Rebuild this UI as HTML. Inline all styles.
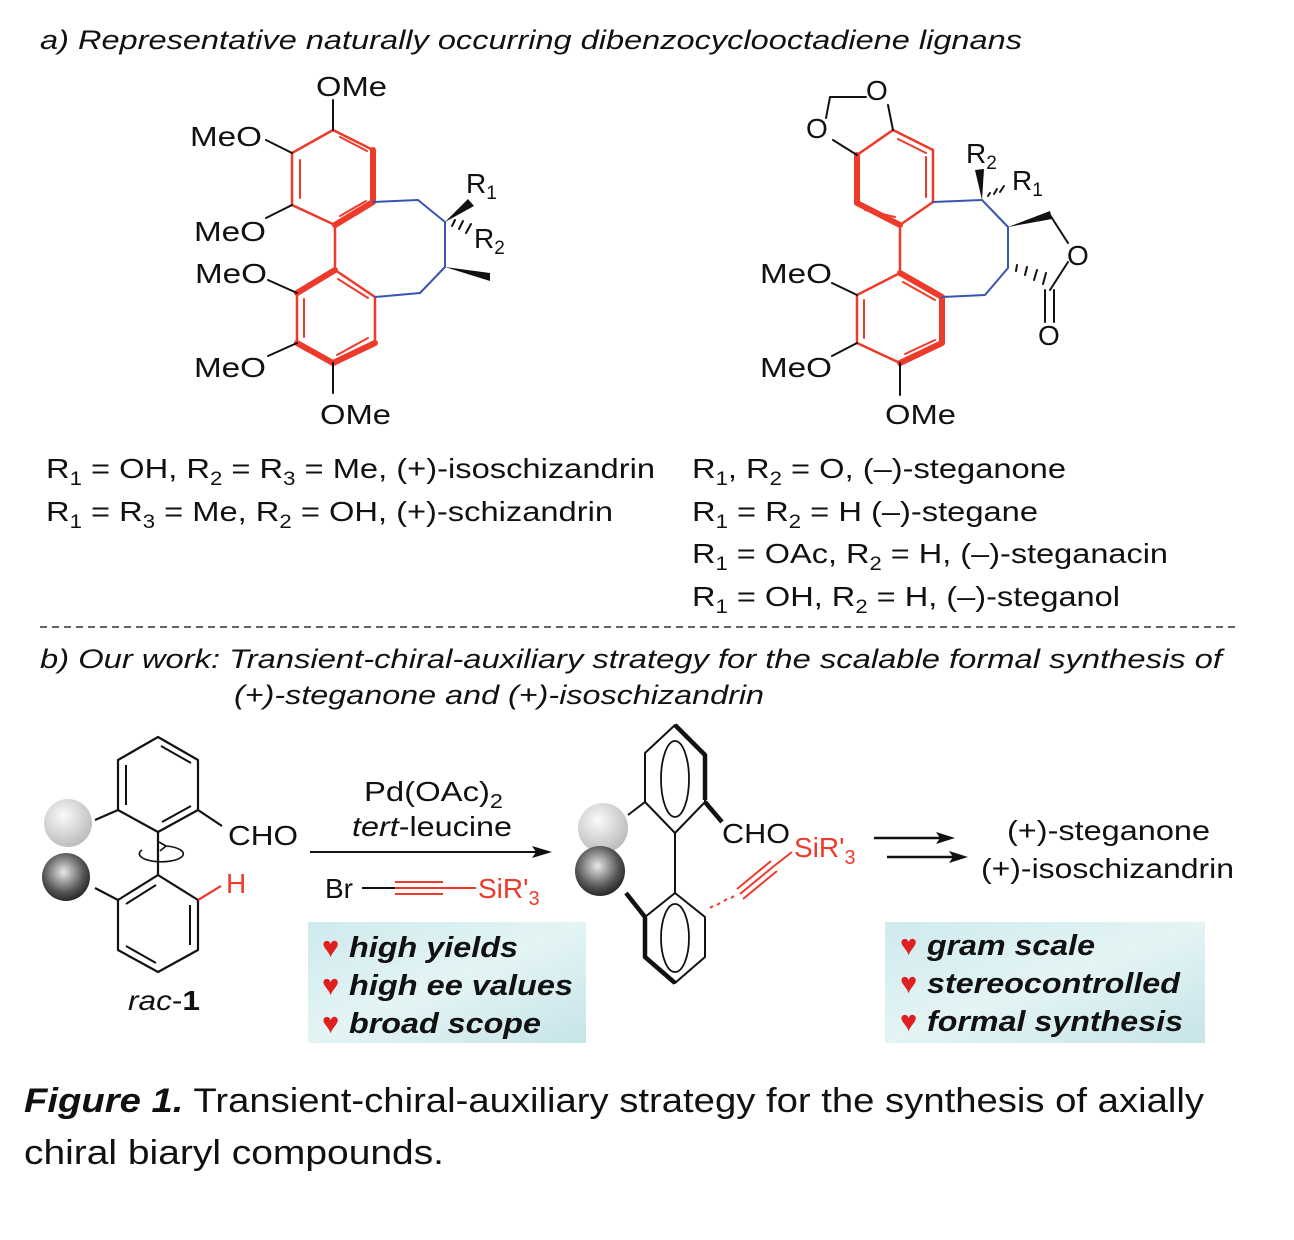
<!DOCTYPE html>
<html><head><meta charset="utf-8"><style>
html,body{margin:0;padding:0;background:#fff}
svg{display:block}
text{font-family:"Liberation Sans",sans-serif;fill:#111}
</style></head><body>
<svg width="1294" height="1240" viewBox="0 0 1294 1240" xmlns="http://www.w3.org/2000/svg">
<defs>
<linearGradient id="bx" x1="0" y1="0" x2="1" y2="1"><stop offset="0" stop-color="#cfeaee"/><stop offset="0.5" stop-color="#e4f4f5"/><stop offset="1" stop-color="#c6e4e8"/></linearGradient>
<radialGradient id="sl" cx="0.4" cy="0.35" r="0.7"><stop offset="0" stop-color="#fafafa"/><stop offset="1" stop-color="#b8b8b8"/></radialGradient>
<radialGradient id="sd" cx="0.45" cy="0.4" r="0.7"><stop offset="0" stop-color="#e8e8e8"/><stop offset="0.6" stop-color="#555"/><stop offset="1" stop-color="#111"/></radialGradient>
</defs>

<text x="40" y="49" font-size="27" font-style="italic" textLength="982" lengthAdjust="spacingAndGlyphs">a) Representative naturally occurring dibenzocyclooctadiene lignans</text>

<!-- LEFT STRUCTURE -->
<g stroke-linecap="round" stroke-linejoin="round" fill="none">
<g stroke="#ee3a2a" stroke-width="2.5">
<path d="M333,130 L373,150 M373,202 L335,225 L292,205 L292,153 L333,130"/>
<path d="M335,270 L375,297 L375,343 M297,343 L297,293"/>
<path d="M335,225 L335,270"/>
<path d="M300,160 L300,198 M340,137 L367,151 M340,216 L366,201" stroke-width="2"/>
<path d="M338,279 L368,298 M304,299 L304,337 M337,355 L368,338" stroke-width="2"/>
</g>
<g stroke="#ee3a2a" stroke-width="6">
<path d="M373,150 L373,202 L335,225"/>
<path d="M335,270 L297,293 M297,343 L333,363 L375,343"/>
</g>
<path d="M373,202 L418,200 L445,222 L445,267 L420,293 L375,297" stroke="#3a55b0" stroke-width="2"/>
<g stroke="#111" stroke-width="2">
<path d="M333,130 L333,100 M292,153 L266,140 M292,205 L266,218 M297,293 L268,280 M297,343 L268,356 M333,363 L333,393"/>
<path d="M452,226 L455,220 M459,229 L463,221 M466,233 L471,224" stroke-width="2"/>
</g>
</g>
<polygon points="445,222 468,199 474,206" fill="#111"/>
<polygon points="445,267 490,273 490,281" fill="#111"/>
<g font-size="28">
<text x="316" y="96" textLength="71" lengthAdjust="spacingAndGlyphs">OMe</text>
<text x="190" y="146" textLength="72" lengthAdjust="spacingAndGlyphs">MeO</text>
<text x="194" y="241" textLength="72" lengthAdjust="spacingAndGlyphs">MeO</text>
<text x="195" y="283" textLength="72" lengthAdjust="spacingAndGlyphs">MeO</text>
<text x="194" y="377" textLength="72" lengthAdjust="spacingAndGlyphs">MeO</text>
<text x="320" y="424" textLength="71" lengthAdjust="spacingAndGlyphs">OMe</text>
<text x="466" y="193">R<tspan font-size="19" dy="6">1</tspan></text>
<text x="474" y="248">R<tspan font-size="19" dy="6">2</tspan></text>
</g>

<!-- RIGHT STRUCTURE -->
<g stroke-linecap="round" stroke-linejoin="round" fill="none">
<g stroke="#ee3a2a" stroke-width="2.5">
<path d="M893,130 L933,150 L933,202 L900,225 M857,155 L893,130"/>
<path d="M900,225 L900,273 M900,273 L857,295 L857,343 L900,363"/>
<path d="M898,139 L926,153 M926,157 L926,197 M865,210 L895,217" stroke-width="2"/>
<path d="M903,282 L935,300 M864,300 L864,338 M905,354 L935,340" stroke-width="2"/>
</g>
<g stroke="#ee3a2a" stroke-width="6">
<path d="M857,155 L857,203 L900,225"/>
<path d="M900,273 L942,297 L942,343 L900,363"/>
</g>
<path d="M933,202 L982,200 L1008,227 L1008,268 L985,295 L942,297" stroke="#3a55b0" stroke-width="2"/>
<g stroke="#111" stroke-width="2">
<path d="M857,155 L833,140 M893,130 L888,105 M826,118 L830,97 L866,97"/>
<path d="M1050,215 L1068,243 M1068,262 L1050,290 M1045,290 L1045,322 M1054,290 L1054,322"/>
<path d="M857,295 L832,283 M857,343 L832,356 M900,363 L900,395"/>
<path d="M988,196 L990,193 M994,194 L997,189 M1000,192 L1004,186"/>
<path d="M1016,271 L1017,265 M1025,275 L1027,267 M1034,280 L1037,270 M1043,284 L1046,273"/>
</g>
</g>
<polygon points="982,200 975,170 984,169" fill="#111"/>
<polygon points="1008,227 1050,211 1052,219" fill="#111"/>
<g font-size="28">
<text x="866" y="100">O</text>
<text x="806" y="138">O</text>
<text x="966" y="163">R<tspan font-size="19" dy="6">2</tspan></text>
<text x="1012" y="190">R<tspan font-size="19" dy="6">1</tspan></text>
<text x="1067" y="265">O</text>
<text x="1038" y="345">O</text>
<text x="760" y="283" textLength="72" lengthAdjust="spacingAndGlyphs">MeO</text>
<text x="760" y="377" textLength="72" lengthAdjust="spacingAndGlyphs">MeO</text>
<text x="885" y="424" textLength="71" lengthAdjust="spacingAndGlyphs">OMe</text>
</g>

<!-- compound lines -->
<g font-size="28">
<text x="46" y="478" textLength="609" lengthAdjust="spacingAndGlyphs">R<tspan font-size="19" dy="7">1</tspan><tspan dy="-7"> = OH, R</tspan><tspan font-size="19" dy="7">2</tspan><tspan dy="-7"> = R</tspan><tspan font-size="19" dy="7">3</tspan><tspan dy="-7"> = Me, (+)-isoschizandrin</tspan></text>
<text x="46" y="521" textLength="567" lengthAdjust="spacingAndGlyphs">R<tspan font-size="19" dy="7">1</tspan><tspan dy="-7"> = R</tspan><tspan font-size="19" dy="7">3</tspan><tspan dy="-7"> = Me, R</tspan><tspan font-size="19" dy="7">2</tspan><tspan dy="-7"> = OH, (+)-schizandrin</tspan></text>
<text x="692" y="478" textLength="374" lengthAdjust="spacingAndGlyphs">R<tspan font-size="19" dy="7">1</tspan><tspan dy="-7">, R</tspan><tspan font-size="19" dy="7">2</tspan><tspan dy="-7"> = O, (–)-steganone</tspan></text>
<text x="692" y="521" textLength="346" lengthAdjust="spacingAndGlyphs">R<tspan font-size="19" dy="7">1</tspan><tspan dy="-7"> = R</tspan><tspan font-size="19" dy="7">2</tspan><tspan dy="-7"> = H (–)-stegane</tspan></text>
<text x="692" y="563" textLength="476" lengthAdjust="spacingAndGlyphs">R<tspan font-size="19" dy="7">1</tspan><tspan dy="-7"> = OAc, R</tspan><tspan font-size="19" dy="7">2</tspan><tspan dy="-7"> = H, (–)-steganacin</tspan></text>
<text x="692" y="606" textLength="428" lengthAdjust="spacingAndGlyphs">R<tspan font-size="19" dy="7">1</tspan><tspan dy="-7"> = OH, R</tspan><tspan font-size="19" dy="7">2</tspan><tspan dy="-7"> = H, (–)-steganol</tspan></text>
</g>

<line x1="40" y1="627" x2="1236" y2="627" stroke="#333" stroke-width="1.5" stroke-dasharray="7,5"/>

<text x="40" y="668" font-size="27" font-style="italic" textLength="1182" lengthAdjust="spacingAndGlyphs">b) Our work: Transient-chiral-auxiliary strategy for the scalable formal synthesis of</text>
<text x="234" y="704" font-size="27" font-style="italic" textLength="530" lengthAdjust="spacingAndGlyphs">(+)-steganone and (+)-isoschizandrin</text>

<!-- rac-1 -->
<circle cx="68" cy="823" r="24" fill="url(#sl)"/>
<circle cx="66" cy="877" r="24" fill="url(#sd)"/>
<g stroke="#111" stroke-width="2.2" fill="none" stroke-linejoin="round">
<path d="M158,737 L198,760 L198,810 L158,832 L118,810 L118,760 Z"/>
<path d="M161,746 L191,763 M191,806 L162,822 M126,765 L126,805" stroke-width="2"/>
<path d="M158,875 L198,900 L198,950 L158,972 L118,950 L118,900 Z"/>
<path d="M126,904 L156,885 M190,905 L190,945 M126,946 L156,963" stroke-width="2"/>
<path d="M158,832 L158,875 M198,810 L222,826 M118,810 L95,820 M118,900 L95,888"/>
<path d="M142,850 A22,8 0 1 0 166,846" stroke-width="1.6"/>
<path d="M166,846 L159,842 M166,846 L160,851" stroke-width="1.6"/>
</g>
<line x1="198" y1="900" x2="221" y2="886" stroke="#ee3a2a" stroke-width="2.2"/>
<text x="228" y="845" font-size="28" textLength="70" lengthAdjust="spacingAndGlyphs">CHO</text>
<text x="226" y="893" font-size="28" style="fill:#ee3a2a">H</text>
<text x="128" y="1010" font-size="28" textLength="72" lengthAdjust="spacingAndGlyphs"><tspan font-style="italic">rac</tspan>-<tspan font-weight="bold">1</tspan></text>

<!-- reaction arrow -->
<line x1="310" y1="852" x2="540" y2="852" stroke="#111" stroke-width="2"/>
<polygon points="552,852 532,846 536,852 532,858" fill="#111"/>
<text x="364" y="801" font-size="28" textLength="139" lengthAdjust="spacingAndGlyphs">Pd(OAc)<tspan font-size="20" dy="7">2</tspan></text>
<text x="352" y="836" font-size="28" textLength="160" lengthAdjust="spacingAndGlyphs"><tspan font-style="italic">tert</tspan>-leucine</text>
<text x="325" y="898" font-size="28">Br</text>
<line x1="362" y1="888" x2="395" y2="888" stroke="#111" stroke-width="2"/>
<g stroke="#ee3a2a" stroke-width="2"><line x1="395" y1="882" x2="443" y2="882"/><line x1="395" y1="888" x2="476" y2="888"/><line x1="395" y1="894" x2="443" y2="894"/></g>
<text x="478" y="898" font-size="28" style="fill:#ee3a2a">SiR'<tspan font-size="20" dy="7">3</tspan></text>

<!-- left box -->
<rect x="308" y="922" width="278" height="121" fill="url(#bx)"/>
<g font-size="29" font-weight="bold" font-style="italic">
<text x="322" y="957" style="fill:#e02020">♥</text><text x="349" y="957" textLength="169" lengthAdjust="spacingAndGlyphs">high yields</text>
<text x="322" y="995" style="fill:#e02020">♥</text><text x="349" y="995" textLength="224" lengthAdjust="spacingAndGlyphs">high ee values</text>
<text x="322" y="1033" style="fill:#e02020">♥</text><text x="349" y="1033" textLength="192" lengthAdjust="spacingAndGlyphs">broad scope</text>
</g>

<!-- product -->
<circle cx="603" cy="828" r="25" fill="url(#sl)"/>
<circle cx="600" cy="871" r="25" fill="url(#sd)"/>
<g stroke="#111" stroke-width="2" fill="none" stroke-linejoin="round">
<path d="M675,725 L705,755 L705,802 L675,833 L645,802 L645,753 Z"/>
<ellipse cx="675" cy="779" rx="14" ry="38" stroke-width="1.8"/>
<path d="M675,725 L705,755 L705,800" stroke-width="4.5"/>
<path d="M675,893 L705,917 L705,957 L675,983 L645,957 L645,917 Z"/>
<ellipse cx="675" cy="938" rx="14" ry="34" stroke-width="1.8"/>
<path d="M645,917 L645,957 L675,983" stroke-width="4.5"/>
<path d="M675,833 L675,893 M645,802 L628,815"/>
<path d="M705,802 L722,822 M626,893 L645,917" stroke-width="4.5"/>
</g>
<g stroke="#ee3a2a" stroke-width="2">
<path d="M710,908 L713,906 M717,905 L720,903 M724,901 L727,899 M731,898 L734,896"/>
<line x1="740" y1="894" x2="774" y2="866"/><line x1="743" y1="899" x2="777" y2="871"/><line x1="737" y1="889" x2="771" y2="861"/>
<line x1="774" y1="866" x2="792" y2="852"/>
</g>
<text x="722" y="843" font-size="28" textLength="68" lengthAdjust="spacingAndGlyphs">CHO</text>
<text x="794" y="857" font-size="28" style="fill:#ee3a2a">SiR'<tspan font-size="20" dy="7">3</tspan></text>

<!-- double arrows -->
<line x1="874" y1="838" x2="945" y2="838" stroke="#111" stroke-width="2.5"/>
<polygon points="955,838 936,832 940,838 936,844" fill="#111"/>
<line x1="887" y1="857" x2="958" y2="857" stroke="#111" stroke-width="2.5"/>
<polygon points="968,857 949,851 953,857 949,863" fill="#111"/>
<text x="1007" y="840" font-size="28" textLength="203" lengthAdjust="spacingAndGlyphs">(+)-steganone</text>
<text x="981" y="878" font-size="28" textLength="253" lengthAdjust="spacingAndGlyphs">(+)-isoschizandrin</text>

<!-- right box -->
<rect x="885" y="922" width="320" height="121" fill="url(#bx)"/>
<g font-size="29" font-weight="bold" font-style="italic">
<text x="900" y="955" style="fill:#e02020">♥</text><text x="927" y="955" textLength="168" lengthAdjust="spacingAndGlyphs">gram scale</text>
<text x="900" y="993" style="fill:#e02020">♥</text><text x="927" y="993" textLength="253" lengthAdjust="spacingAndGlyphs">stereocontrolled</text>
<text x="900" y="1031" style="fill:#e02020">♥</text><text x="927" y="1031" textLength="256" lengthAdjust="spacingAndGlyphs">formal synthesis</text>
</g>

<!-- caption -->
<text x="24" y="1112" font-size="34" textLength="1180" lengthAdjust="spacingAndGlyphs"><tspan font-weight="bold" font-style="italic">Figure 1.</tspan> Transient-chiral-auxiliary strategy for the synthesis of axially</text>
<text x="24" y="1164" font-size="34" textLength="420" lengthAdjust="spacingAndGlyphs">chiral biaryl compounds.</text>
</svg>
</body></html>
